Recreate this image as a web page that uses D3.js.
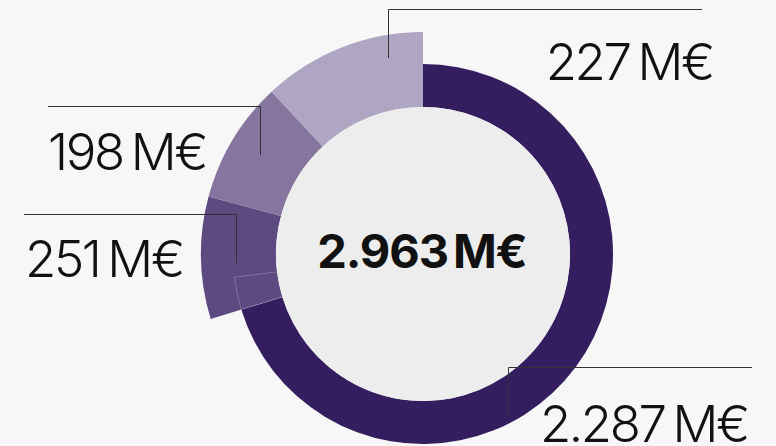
<!DOCTYPE html>
<html>
<head>
<meta charset="utf-8">
<script src="https://cdn.jsdelivr.net/npm/d3@7"></script>
<style>
  html, body { margin: 0; padding: 0; background: #f7f7f7; }
  svg { display: block; }
  .lbl { font-family: Inter, "Noto Sans", sans-serif; font-weight: 260; fill: #111; }
  .total { font-family: Inter, "Noto Sans", sans-serif; font-weight: 700; fill: #111; }
  .leader { fill: none; stroke: #333; stroke-width: 1; }
</style>
</head>
<body>
<svg id="chart"></svg>
<script>
// ======== DATA ========
const segments = ['main', 'b', 'c', 'd'];
const values = [2287, 251, 198, 227];          // M€
// sweep of each slice as drawn in the picture (degrees)
const sweepDeg = [253, 32, 32, 43];
const colors = ['#351e5f', '#5d4a81', '#85759f', '#aea6c3'];

const W = 776, H = 446;
const cx = 423, cy = 254;
const R_IN = 147, R_MAIN = 190, R_OUTER = 222;

const svg = d3.select('#chart').attr('width', W).attr('height', H);
const g = svg.append('g').attr('transform', `translate(${cx},${cy})`);

const fmt = v => d3.format(',')(v).replace(/,/g, '.') + ' M€';
const total = d3.sum(values);

const pie = d3.pie().sort(null).value((d, i) => sweepDeg[i]);
const arcs = pie(values);

const arc = d3.arc()
    .innerRadius(R_IN)
    .outerRadius(d => d.index === 0 ? R_MAIN : R_OUTER);

g.selectAll('path.slice')
    .data(arcs)
  .enter().append('path')
    .attr('class', 'slice')
    .attr('d', arc)
    .attr('fill', (d, i) => colors[i]);

// faint outline left where the main ring runs under the 251 slice
const deg = Math.PI / 180;
g.append('path')
    .attr('d', d3.arc()({
        innerRadius: R_IN - 2, outerRadius: R_MAIN,
        startAngle: arcs[0].endAngle, endAngle: arcs[0].endAngle + 10 * deg
    }))
    .attr('fill', 'none')
    .attr('stroke', 'rgba(255,255,255,0.22)')
    .attr('stroke-width', 1);

// inner disc
g.append('circle').attr('r', R_IN).attr('fill', '#ededed');

// total in the middle
g.append('text')
    .attr('class', 'total')
    .attr('x', -1).attr('y', 14)
    .attr('text-anchor', 'middle')
    .style('font-size', '47px')
    .style('letter-spacing', '-1.1px')
    .style('word-spacing', '-5px')
    .text(fmt(total));

// ======== LABELS + LEADERS ========
const labelLayout = [
    { lineX: 752, lineY: 367, elbowX: 508, drop: 49, tx: 748, ty: 442, anchor: 'end' },
    { lineX: 24,  lineY: 214, elbowX: 236, drop: 49, tx: 25,  ty: 277, anchor: 'start' },
    { lineX: 48,  lineY: 106, elbowX: 260, drop: 49, tx: 48,  ty: 170, anchor: 'start' },
    { lineX: 702, lineY: 9,   elbowX: 388, drop: 49, tx: 713, ty: 80,  anchor: 'end' }
];

const line = d3.line();
svg.selectAll('path.leader')
    .data(labelLayout)
  .enter().append('path')
    .attr('class', 'leader')
    .attr('d', d => line([[d.lineX, d.lineY + 0.5], [d.elbowX + 0.5, d.lineY + 0.5], [d.elbowX + 0.5, d.lineY + d.drop]]));

svg.selectAll('text.lbl')
    .data(labelLayout)
  .enter().append('text')
    .attr('class', 'lbl')
    .attr('x', d => d.tx)
    .attr('y', d => d.ty)
    .attr('text-anchor', d => d.anchor)
    .style('font-size', '51px')
    .style('letter-spacing', '-2.4px')
    .style('word-spacing', '-4px')
    .text((d, i) => fmt(values[i]));
</script>
</body>
</html>
